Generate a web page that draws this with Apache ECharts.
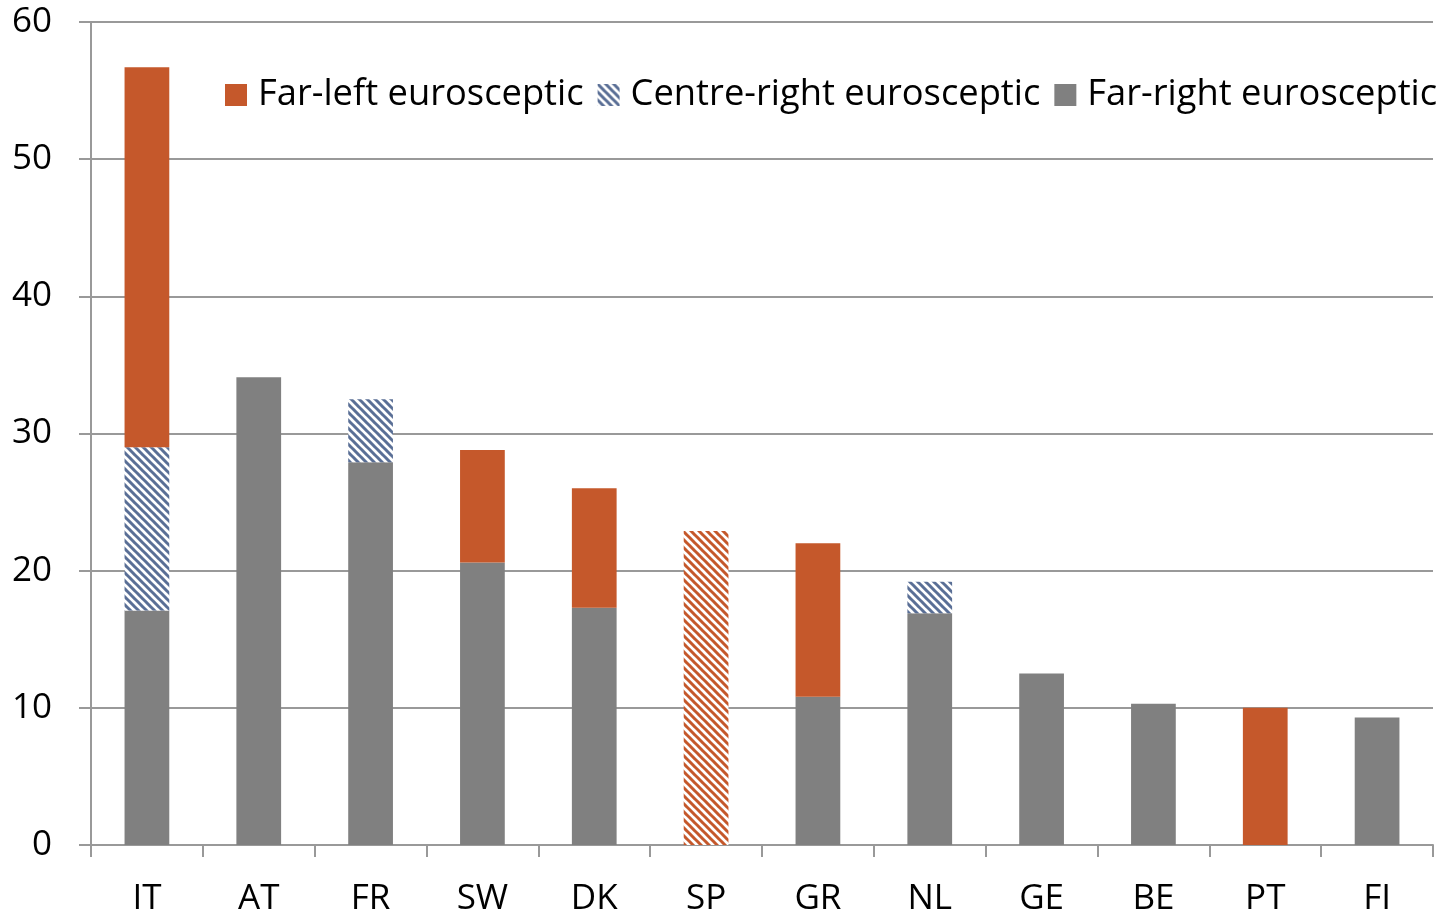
<!DOCTYPE html>
<html>
<head>
<meta charset="utf-8">
<script src="https://cdn.jsdelivr.net/npm/echarts@6/dist/echarts.min.js"></script>
<style>
  html, body { margin: 0; padding: 0; background: #fff; }
  #chart { width: 1442px; height: 914px; }
</style>
</head>
<body>
<div id="chart"></div>
<script>
// data
var categories = ['IT', 'AT', 'FR', 'SW', 'DK', 'SP', 'GR', 'NL', 'GE', 'BE', 'PT', 'FI'];
var farRight = [17.1, 34.1, 27.9, 20.6, 17.3, null, 10.8, 16.9, 12.5, 10.3, null, 9.3];
var centreRight = [11.9, null, 4.6, null, null, null, null, 2.3, null, null, null, null];
var farLeft = [27.7, null, null, 8.2, 8.7, 22.9, 11.2, null, null, null, 10.0, null];
var yTicks = [0, 10, 20, 30, 40, 50, 60];
// SP is drawn with a hatched far-left bar
var hatchedFarLeft = ['SP'];

var ORANGE = '#c5582b';
var GREY = '#808080';
var BLUE = '#5a6f96';
var FONT = 'Open Sans';

// diagonal "\" hatch pattern
function hatch(color) {
  var c = document.createElement('canvas');
  c.width = 8; c.height = 8;
  var ctx = c.getContext('2d');
  ctx.fillStyle = '#fff';
  ctx.fillRect(0, 0, 8, 8);
  ctx.strokeStyle = color;
  ctx.lineWidth = 3;
  ctx.beginPath();
  ctx.moveTo(-1, -1); ctx.lineTo(9, 9);
  ctx.moveTo(-9, -1); ctx.lineTo(1, 9);
  ctx.moveTo(7, -1); ctx.lineTo(17, 9);
  ctx.stroke();
  return { image: c, repeat: 'repeat' };
}

var farLeftData = farLeft.map(function (v, i) {
  if (hatchedFarLeft.indexOf(categories[i]) >= 0) {
    return { value: v, itemStyle: { color: hatch(ORANGE) } };
  }
  return v;
});

var chart = echarts.init(document.getElementById('chart'));
chart.setOption({
  animation: false,
  textStyle: { fontFamily: FONT },
  grid: { left: 91, right: 9, top: 22, bottom: 69, outerBoundsMode: 'none', containLabel: false },
  legend: {
    left: 225,
    top: 77,
    padding: 0,
    icon: 'rect',
    itemWidth: 22,
    itemHeight: 22,
    itemGap: 14,
    textStyle: { fontFamily: FONT, fontSize: 36.3, color: '#000', padding: [0, 0, 0, 6] },
    data: ['Far-left eurosceptic', 'Centre-right eurosceptic', 'Far-right eurosceptic']
  },
  xAxis: {
    type: 'category',
    data: categories,
    axisLine: { lineStyle: { color: '#999', width: 2 } },
    axisTick: { show: true, length: 12, lineStyle: { color: '#999', width: 2 } },
    axisLabel: { color: '#000', fontSize: 35, margin: 37, fontFamily: FONT }
  },
  yAxis: {
    type: 'value',
    min: 0,
    max: 60,
    interval: 10,
    axisLine: { show: true, lineStyle: { color: '#999', width: 2 } },
    axisTick: { show: true, length: 12, lineStyle: { color: '#999', width: 2 } },
    splitLine: { lineStyle: { color: '#999', width: 2 } },
    axisLabel: {
      color: '#000', fontSize: 35, margin: 39, fontFamily: FONT,
      formatter: function (v) { return yTicks.indexOf(v) >= 0 ? String(v) : ''; }
    }
  },
  series: [
    {
      name: 'Far-right eurosceptic',
      type: 'bar',
      stack: 'total',
      barWidth: '40%',
      itemStyle: { color: GREY },
      data: farRight
    },
    {
      name: 'Centre-right eurosceptic',
      type: 'bar',
      stack: 'total',
      barWidth: '40%',
      itemStyle: { color: hatch(BLUE) },
      data: centreRight
    },
    {
      name: 'Far-left eurosceptic',
      type: 'bar',
      stack: 'total',
      barWidth: '40%',
      itemStyle: { color: ORANGE },
      data: farLeftData
    }
  ]
});
</script>
</body>
</html>
